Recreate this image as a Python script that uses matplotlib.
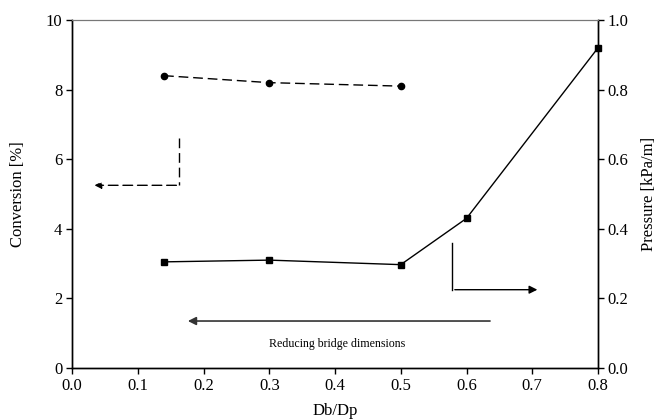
import matplotlib.pyplot as plt

plt.rcParams['font.family'] = ['Liberation Serif', 'DejaVu Serif']

# data
conv_x = [0.14, 0.3, 0.5]
conv_y = [8.4, 8.2, 8.1]
pres_x = [0.14, 0.3, 0.5, 0.6, 0.8]
pres_y = [0.305, 0.31, 0.297, 0.43, 0.92]

fig = plt.figure(figsize=(6.62, 4.2), dpi=100)
ax = fig.add_axes([72 / 662, 52 / 420, 526 / 662, 348 / 420])
ax2 = ax.twinx()

dash = (0, (7, 3.5))
ax.plot(conv_x, conv_y, color='black', linestyle=dash, linewidth=1,
        marker='o', markersize=4.5)
ax2.plot(pres_x, pres_y, color='black', linewidth=1, marker='s', markersize=5,
         clip_on=False)

ax.set_xlim(0, 0.8)
ax.set_ylim(0, 10)
ax2.set_ylim(0, 1.0)
ax.set_xticks([0.0, 0.1, 0.2, 0.3, 0.4, 0.5, 0.6, 0.7, 0.8])
ax.set_xticklabels(['0.0', '0.1', '0.2', '0.3', '0.4', '0.5', '0.6', '0.7', '0.8'])
ax.set_yticks([0, 2, 4, 6, 8, 10])
ax2.set_yticks([0.0, 0.2, 0.4, 0.6, 0.8, 1.0])
ax2.set_yticklabels(['0.0', '0.2', '0.4', '0.6', '0.8', '1.0'])

for a in (ax, ax2):
    a.tick_params(direction='out', length=4, width=1, labelsize=12, pad=3)
    a.spines['top'].set_color('#777777')
    a.spines['top'].set_linewidth(0.8)
    for s in ('left', 'right', 'bottom'):
        a.spines[s].set_linewidth(1)

ax.set_xlabel('Db/Dp', fontsize=12, labelpad=7)
ax.set_ylabel('Conversion [%]', fontsize=12, labelpad=14)
ax2.set_ylabel('Pressure [kPa/m]', fontsize=12, labelpad=9)

# dashed L arrow pointing left (conversion axis)
ax.plot([0.163, 0.163], [6.6, 5.25], color='black', linestyle=dash, linewidth=1)
ax.annotate('', xy=(0.03, 5.25), xytext=(0.163, 5.25),
            arrowprops=dict(arrowstyle='-|>', color='black', lw=1,
                            linestyle=dash, mutation_scale=10))

# solid L arrow pointing right (pressure axis)
ax.plot([0.578, 0.578], [3.6, 2.25], color='black', linewidth=1)
ax.annotate('', xy=(0.712, 2.25), xytext=(0.578, 2.25),
            arrowprops=dict(arrowstyle='-|>', color='black', lw=1, mutation_scale=12))

# reducing bridge dimensions arrow
ax.annotate('', xy=(0.172, 1.35), xytext=(0.64, 1.35),
            arrowprops=dict(arrowstyle='-|>', color='#333333', lw=1.2, mutation_scale=12))
ax.text(0.403, 0.68, 'Reducing bridge dimensions', fontsize=8.6, ha='center', va='center')

fig.savefig('out.png', dpi=100)
